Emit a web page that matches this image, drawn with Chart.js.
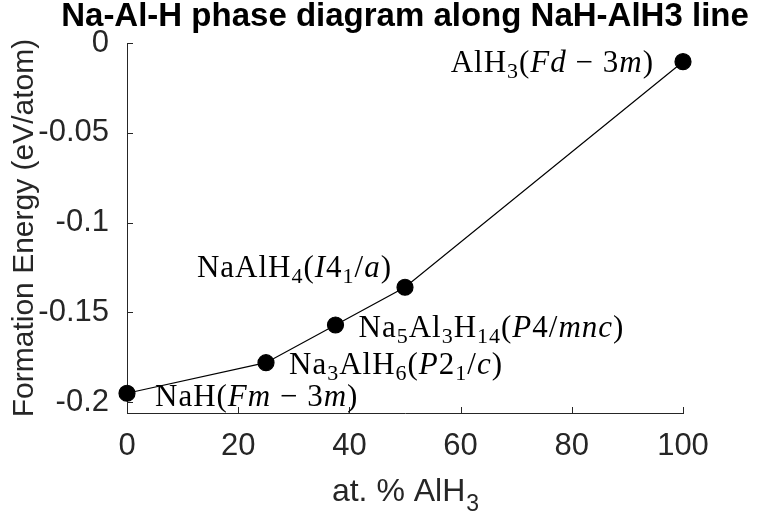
<!DOCTYPE html>
<html>
<head>
<meta charset="utf-8">
<script src="https://cdn.jsdelivr.net/npm/chart.js@4"></script>
<style>
html,body{margin:0;padding:0;background:#fff;}
#wrap{width:757px;height:518px;position:relative;}
</style>
</head>
<body>
<div id="wrap"><canvas id="c" width="757" height="518"></canvas></div>
<script>
// ---- data ----
const compositions = [0, 25, 37.5, 50, 100];            // at. % AlH3
const formationEnergies = [-0.195, -0.178, -0.157, -0.136, -0.0104]; // eV/atom
const phaseLabels = [
  'NaH(*Fm* − 3*m*)',
  'Na_{3}AlH_{6}(*P*2_{1}/*c*)',
  'Na_{5}Al_{3}H_{14}(*P*4/*mnc*)',
  'NaAlH_{4}(*I*4_{1}/*a*)',
  'AlH_{3}(*Fd* − 3*m*)'
];
const xTicks = [0, 20, 40, 60, 80, 100];
const yTicks = [-0.2, -0.15, -0.1, -0.05, 0];
const titleText = 'Na-Al-H phase diagram along NaH-AlH3 line';
const xTitleMain = 'at. % AlH';
const xTitleSub = '3';
const yTitleText = 'Formation Energy (eV/atom)';

// ---- label placement styles (offsets from each point, in px) ----
const labelPlacement = [
  {dx: 28, dy: 3, align: 'left'},
  {dx: 23, dy: 1, align: 'left'},
  {dx: 23, dy: 2, align: 'left'},
  {dx: -13, dy: -21, align: 'right'},
  {dx: -29, dy: 0, align: 'right'}
];

const AX = '#262626';
const SERIF = '"Liberation Serif", "DejaVu Serif", serif';
const SANS = '"Liberation Sans", Arial, Helvetica, sans-serif';
const LBL = 31;
const LSP = 1; // letter spacing for labels

function parseMarkup(s) {
  const out = [];
  let italic = false, i = 0, buf = '';
  const flush = (sub) => { if (buf) { out.push({t: buf, i: italic, sub: sub}); buf = ''; } };
  while (i < s.length) {
    const ch = s[i];
    if (ch === '*') { flush(false); italic = !italic; i++; }
    else if (ch === '_' && s[i+1] === '{') {
      flush(false);
      const end = s.indexOf('}', i);
      buf = s.slice(i+2, end);
      const it = italic; italic = false; flush(true); italic = it;
      i = end + 1;
    } else { buf += ch; i++; }
  }
  flush(false);
  return out;
}

function fontFor(seg) {
  const size = seg.sub ? Math.round(LBL * 0.7) : LBL;
  return (seg.i ? 'italic ' : '') + size + 'px ' + SERIF;
}

function drawRich(ctx, segs, x, y, align) {
  ctx.letterSpacing = LSP + 'px';
  let w = 0;
  segs.forEach(s => { ctx.font = fontFor(s); w += ctx.measureText(s.t).width; });
  let cx = align === 'right' ? x - w : x;
  ctx.textBaseline = 'alphabetic';
  ctx.textAlign = 'left';
  const base = y + LBL * 0.33;
  segs.forEach(s => {
    ctx.font = fontFor(s);
    ctx.fillText(s.t, cx, s.sub ? base + LBL * 0.2 : base);
    cx += ctx.measureText(s.t).width;
  });
  ctx.letterSpacing = '0px';
}

const decorPlugin = {
  id: 'decor',
  afterDraw(chart) {
    const ctx = chart.ctx;
    const ca = chart.chartArea;
    const xs = chart.scales.x, ys = chart.scales.y;
    ctx.save();
    // inward ticks
    ctx.strokeStyle = AX; ctx.lineWidth = 1;
    ctx.beginPath();
    xTicks.forEach(v => { const px = Math.round(xs.getPixelForValue(v)) + 0.5; ctx.moveTo(px, ca.bottom); ctx.lineTo(px, ca.bottom - 6); });
    yTicks.forEach(v => { const py = Math.round(ys.getPixelForValue(v)) + 0.5; ctx.moveTo(ca.left, py); ctx.lineTo(ca.left + 6, py); });
    ctx.stroke();
    // title
    ctx.fillStyle = '#000';
    ctx.font = 'bold 33px ' + SANS;
    ctx.textAlign = 'center'; ctx.textBaseline = 'middle';
    ctx.fillText(titleText, (ca.left + ca.right) / 2, 17);
    // x title with subscript
    ctx.fillStyle = AX;
    ctx.font = '32px ' + SANS;
    const wMain = ctx.measureText(xTitleMain).width;
    ctx.font = '23px ' + SANS;
    const wSub = ctx.measureText(xTitleSub).width;
    const x0 = (ca.left + ca.right) / 2 - (wMain + wSub) / 2;
    ctx.textAlign = 'left'; ctx.textBaseline = 'alphabetic';
    ctx.font = '32px ' + SANS;
    ctx.fillText(xTitleMain, x0, 501);
    ctx.font = '23px ' + SANS;
    ctx.fillText(xTitleSub, x0 + wMain + 1, 511);
    // phase labels
    ctx.fillStyle = '#000';
    const meta = chart.getDatasetMeta(0);
    meta.data.forEach((pt, k) => {
      const p = labelPlacement[k];
      drawRich(ctx, parseMarkup(phaseLabels[k]), pt.x + p.dx, pt.y + p.dy, p.align);
    });
    ctx.restore();
  }
};

new Chart(document.getElementById('c'), {
  type: 'line',
  data: {
    datasets: [{
      data: compositions.map((c, i) => ({x: c, y: formationEnergies[i]})),
      borderColor: '#000',
      borderWidth: 1.2,
      backgroundColor: '#000',
      pointRadius: 8,
      pointHoverRadius: 8,
      pointBackgroundColor: '#000',
      pointBorderColor: '#000',
      tension: 0,
      clip: false
    }]
  },
  options: {
    responsive: false,
    animation: false,
    devicePixelRatio: 1,
    layout: {padding: {top: 43, right: 74, bottom: 0, left: 0}},
    plugins: {legend: {display: false}, tooltip: {enabled: false}, title: {display: false}},
    scales: {
      x: {
        type: 'linear', min: 0, max: 100,
        afterBuildTicks: s => { s.ticks = xTicks.map(v => ({value: v})); },
        afterFit: s => { s.height = 105; },
        grid: {display: false},
        border: {display: true, color: AX, width: 1},
        ticks: {color: AX, font: {family: SANS, size: 31}, padding: 7, maxRotation: 0,
                callback: v => String(v)}
      },
      y: {
        type: 'linear', min: -0.206, max: 0,
        afterBuildTicks: s => { s.ticks = yTicks.map(v => ({value: v})); },
        afterFit: s => { s.width = 127; },
        grid: {display: false},
        border: {display: true, color: AX, width: 1},
        title: {display: true, text: yTitleText, color: AX, font: {family: SANS, size: 30}, padding: {top: 7, bottom: 0}},
        ticks: {color: AX, font: {family: SANS, size: 31}, padding: 10,
                callback: v => String(parseFloat(v.toFixed(3)))}
      }
    }
  },
  plugins: [decorPlugin]
});
</script>
</body>
</html>
